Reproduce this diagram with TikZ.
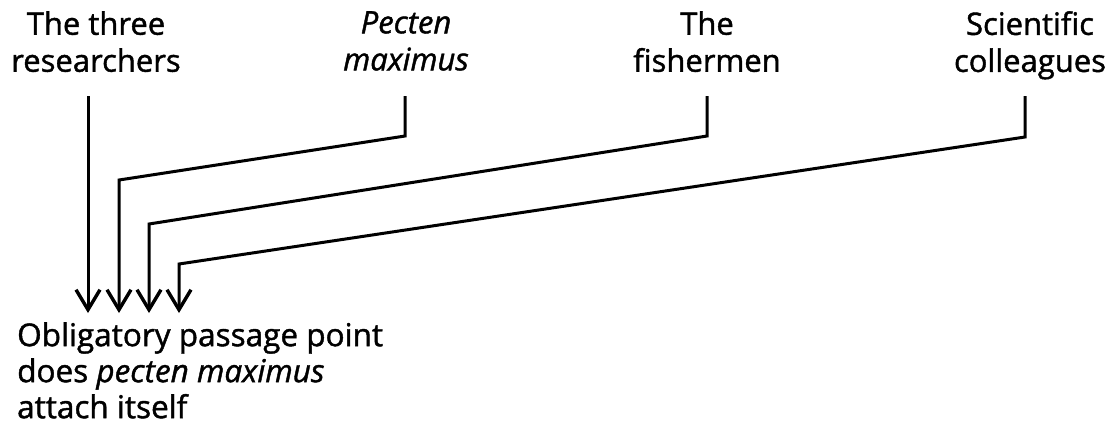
\documentclass[tikz,border=0pt]{standalone}
\usepackage{fontspec}
\setmainfont{Open Sans}[
  BoldFont={Open Sans}, BoldFeatures={FakeBold=1.3},
  BoldItalicFont={Open Sans Italic}, BoldItalicFeatures={FakeBold=1.3}]
\usetikzlibrary{arrows.meta}
\tikzset{
  lbl/.style={anchor=north, align=center, inner sep=0pt, font=\fontsize{31}{37}\selectfont\bfseries},
  link/.style={line width=3pt, line join=miter, -{Straight Barb[length=20pt,width=24pt,line width=3.4pt]}}
}
\begin{document}
\begin{tikzpicture}[x=1pt,y=-1pt]
\useasboundingbox (0,0) rectangle (1110,426);
\node[lbl] (res) at (96,11) {The three\\researchers};
\node[lbl] (pec) at (406,11) {\itshape Pecten\\\itshape maximus};
\node[lbl] (fish) at (707,11) {The\\fishermen};
\node[lbl] (sci) at (1030,11) {Scientific\\colleagues};
\node[anchor=north west, align=left, inner sep=0pt, font=\fontsize{31.5}{36}\selectfont\bfseries] (opp) at (17,322)
  {Obligatory passage point\\does \textit{pecten maximus}\\attach itself};
\coordinate (r0) at (88,96);
\coordinate (p0) at (405,96);
\coordinate (f0) at (707,96);
\coordinate (s0) at (1025,96);
\coordinate (t1) at (88,313);
\coordinate (t2) at (119,313);
\coordinate (t3) at (149,313);
\coordinate (t4) at (179,313);
\draw[link] (r0) -- (t1);
\draw[link] (p0) -- (405,136) -- (119,180) -- (t2);
\draw[link] (f0) -- (707,136) -- (149,224) -- (t3);
\draw[link] (s0) -- (1025,137) -- (179,264) -- (t4);
\end{tikzpicture}
\end{document}
